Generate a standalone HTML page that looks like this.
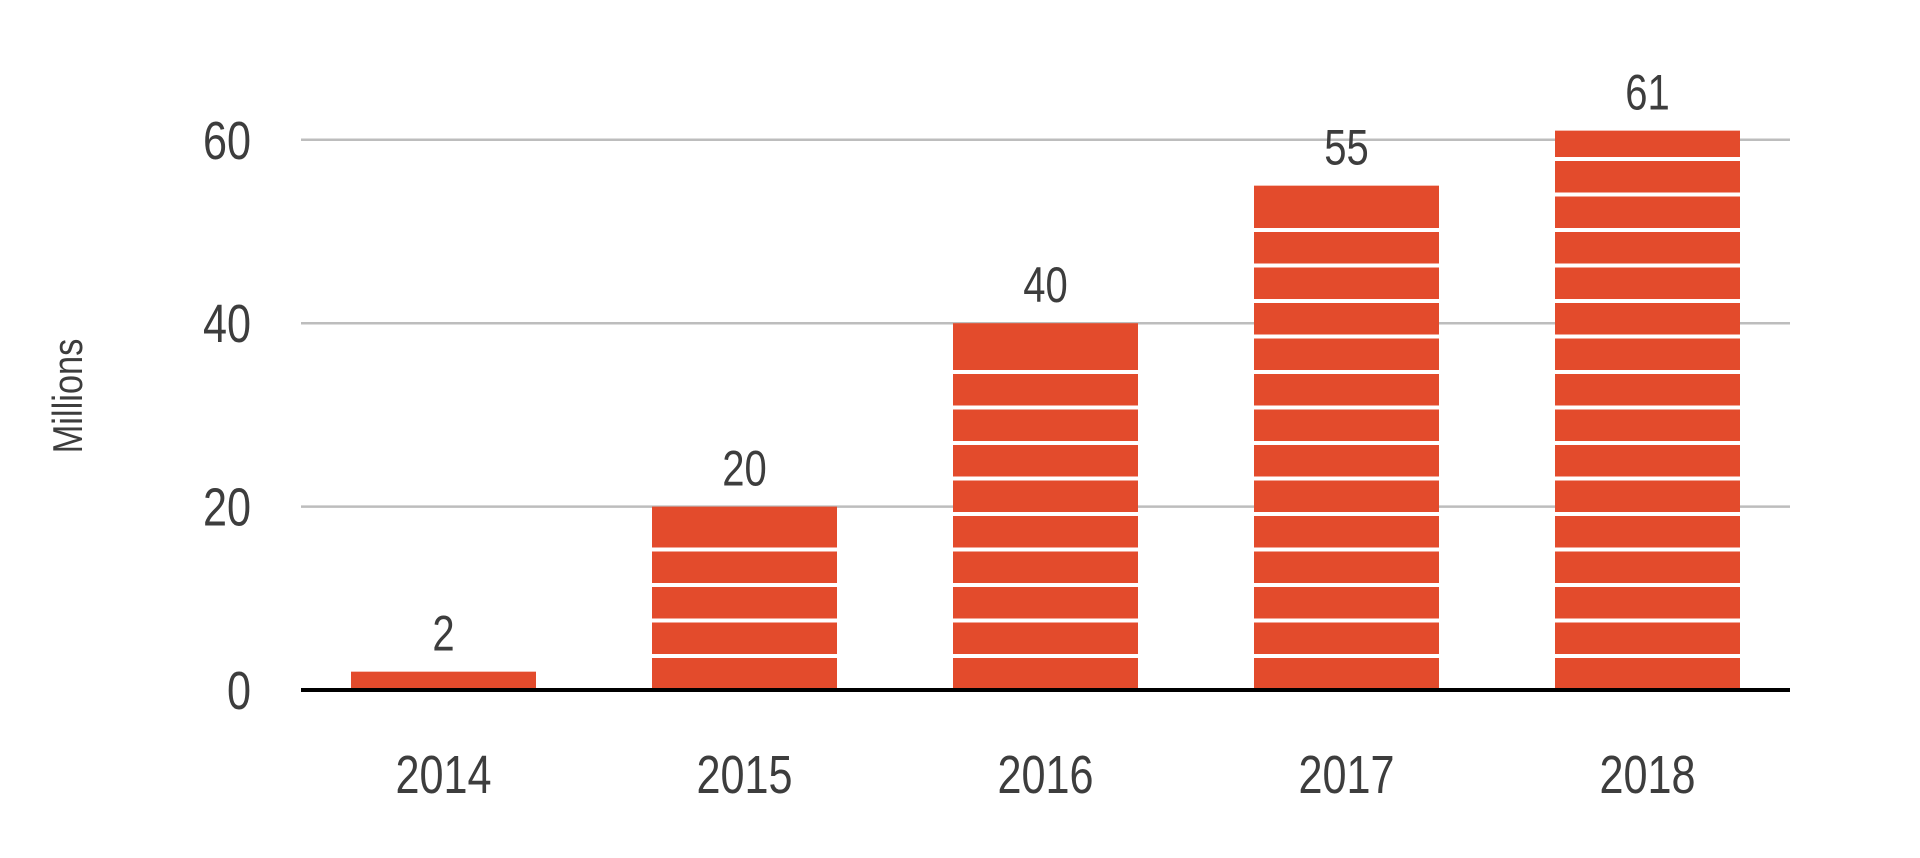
<!DOCTYPE html>
<html><head><meta charset="utf-8"><style>
html,body{margin:0;padding:0;background:#fff;}
svg text{font-family:"Liberation Sans Narrow","Liberation Sans",sans-serif;fill:#3d3d3d;}
</style></head><body>
<svg id="chart" width="1920" height="853" viewBox="0 0 1920 853" xmlns="http://www.w3.org/2000/svg">
<text x="0" y="0" font-size="42" text-anchor="middle" transform="translate(82,396) rotate(-90) scale(0.82,1)">Millions</text>
</svg>
<script>
const categories=["2014","2015","2016","2017","2018"];
const values=[2,20,40,55,61];
const yTicks=[0,20,40,60];
const valueLabels=["2","20","40","55","61"];
const NS="http://www.w3.org/2000/svg";
const svg=document.getElementById('chart');
const x0=301,x1=1790,yZero=690,pxPerUnit=9.17;
const firstCenter=443.5,step=301,barW=185;
function y(v){return yZero-v*pxPerUnit;}
function xc(i){return firstCenter+i*step;}
function mk(tag,attrs){const e=document.createElementNS(NS,tag);for(const k in attrs)e.setAttribute(k,attrs[k]);svg.appendChild(e);return e;}
function txt(tx,ty,size,anchor){return mk('text',{x:0,y:0,'font-size':size,'text-anchor':anchor,transform:'translate('+tx+','+ty+') scale(0.8,1)'});}
yTicks.forEach(t=>{
  if(t>0){const g=mk('line',{x1:x0,x2:x1,y1:y(t),y2:y(t),stroke:'#bdbdbd','stroke-width':2.5});
  
  }
  const tl=txt(251,y(t)+19,54,'end');
  tl.textContent=t;
  
  
});
values.forEach((v,i)=>{
  const top=y(v),left=xc(i)-barW/2;
  const b=mk('rect',{x:left,y:top,width:barW,height:yZero-top,fill:'#e34b2c'});
  
  
  for(let s=yZero-34;s>top+14;s-=35.5){
    const w=mk('rect',{x:left,y:s-2,width:barW,height:4,fill:'#fff'});
    
    
  }
  const vl=txt(xc(i),top-21,50,'middle');
  vl.textContent=valueLabels[i];
  
  
  const cl=txt(xc(i),793,54,'middle');
  cl.textContent=categories[i];
  
  
});
const ax=mk('line',{x1:x0,x2:x1,y1:yZero,y2:yZero,stroke:'#000','stroke-width':4});


</script>
</body></html>
